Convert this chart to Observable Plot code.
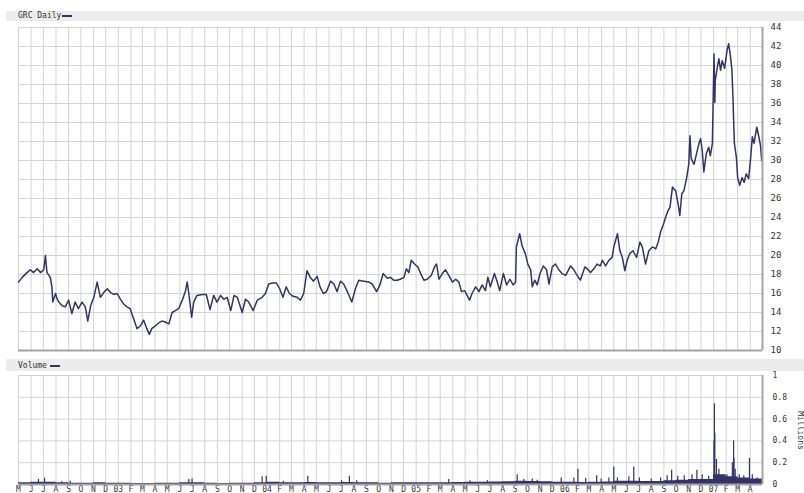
<!DOCTYPE html>
<html><head><meta charset="utf-8">
<script src="https://cdn.jsdelivr.net/npm/d3@7"></script>
<script src="https://cdn.jsdelivr.net/npm/@observablehq/plot@0.6"></script>
<style>
body{margin:0;background:#fff;width:804px;height:493px;overflow:hidden;position:relative;font-family:"DejaVu Sans Mono",monospace;}
.bar{position:absolute;left:6px;width:798px;background:#ececec;}
.lbl{position:absolute;font-size:8px;color:#333;line-height:10px;}
.dash{position:absolute;height:2px;width:10px;background:#333366;}
#price,#vol{position:absolute;left:0;}
#price{top:22px}
#vol{top:366px}
#mil{position:absolute;left:770px;top:426px;width:60px;text-align:center;font-size:8px;color:#333;transform:rotate(90deg);transform-origin:center;font-family:"DejaVu Sans Mono",monospace;}
svg text{font-family:"DejaVu Sans Mono",monospace;}
</style></head>
<body>
<div class="bar" style="top:11px;height:10px"></div>
<div class="lbl" style="left:18px;top:11px">GRC Daily</div>
<div class="dash" style="left:62px;top:15px"></div>
<div class="bar" style="top:359px;height:12px"></div>
<div class="lbl" style="left:18px;top:361px">Volume</div>
<div class="dash" style="left:50px;top:365px"></div>
<div id="price"></div>
<div id="vol"></div>
<div id="mil">Millions</div>
<script>
const monthLetters = ["J","F","M","A","M","J","J","A","S","O","N","D"];
const priceTicks = [10,12,14,16,18,20,22,24,26,28,30,32,34,36,38,40,42,44];
const volTicks = [0,0.2,0.4,0.6,0.8,1];
const xStart = "2002-05-01", xEnd = "2007-05-01";

const priceDates = [
"2002-05-01","2002-05-10","2002-05-22","2002-05-30","2002-06-07","2002-06-16","2002-06-24","2002-07-02","2002-07-06","2002-07-10",
"2002-07-18","2002-07-22","2002-07-24","2002-07-31","2002-08-04","2002-08-08","2002-08-16","2002-08-24","2002-09-01","2002-09-09",
"2002-09-17","2002-09-25","2002-10-04","2002-10-12","2002-10-18","2002-10-25","2002-11-02","2002-11-10","2002-11-18","2002-11-26",
"2002-12-05","2002-12-13","2002-12-21","2002-12-29","2003-01-06","2003-01-14","2003-01-22","2003-01-30","2003-02-08","2003-02-16",
"2003-02-24","2003-03-04","2003-03-12","2003-03-18","2003-03-24","2003-04-02","2003-04-10","2003-04-18","2003-04-26","2003-05-05",
"2003-05-13","2003-05-21","2003-05-29","2003-06-07","2003-06-15","2003-06-19","2003-06-23","2003-06-30","2003-07-05","2003-07-13",
"2003-07-26","2003-08-05","2003-08-14","2003-08-23","2003-08-31","2003-09-09","2003-09-17","2003-09-25","2003-10-04","2003-10-12",
"2003-10-20","2003-11-01","2003-11-09","2003-11-17","2003-11-28","2003-12-08","2003-12-20","2003-12-28","2004-01-05","2004-01-14",
"2004-01-24","2004-02-01","2004-02-09","2004-02-17","2004-02-25","2004-03-05","2004-03-15","2004-03-23","2004-03-31","2004-04-08",
"2004-04-16","2004-04-24","2004-05-03","2004-05-10","2004-05-18","2004-05-26","2004-06-05","2004-06-13","2004-06-21","2004-06-29",
"2004-07-07","2004-07-15","2004-07-27","2004-08-05","2004-08-13","2004-08-25","2004-09-07","2004-09-15","2004-09-26","2004-10-04",
"2004-10-12","2004-10-22","2004-10-30","2004-11-07","2004-11-15","2004-11-23","2004-12-02","2004-12-08","2004-12-14","2004-12-20",
"2004-12-28","2005-01-05","2005-01-12","2005-01-20","2005-01-28","2005-02-07","2005-02-15","2005-02-20","2005-02-26","2005-03-06",
"2005-03-14","2005-03-22","2005-03-31","2005-04-08","2005-04-16","2005-04-22","2005-04-30","2005-05-06","2005-05-12","2005-05-18",
"2005-05-27","2005-06-04","2005-06-12","2005-06-20","2005-06-26","2005-07-02","2005-07-12","2005-07-19","2005-07-25","2005-08-03",
"2005-08-11","2005-08-19","2005-08-27","2005-09-02","2005-09-04","2005-09-12","2005-09-18","2005-09-26","2005-10-02","2005-10-09",
"2005-10-13","2005-10-19","2005-10-25","2005-11-01","2005-11-09","2005-11-17","2005-11-23","2005-12-01","2005-12-09","2005-12-17",
"2005-12-25","2006-01-03","2006-01-15","2006-01-23","2006-01-31","2006-02-08","2006-02-19","2006-02-25","2006-03-05","2006-03-13",
"2006-03-21","2006-03-29","2006-04-03","2006-04-11","2006-04-19","2006-04-27","2006-05-01","2006-05-10","2006-05-16","2006-05-22",
"2006-05-28","2006-06-03","2006-06-09","2006-06-17","2006-06-26","2006-07-04","2006-07-10","2006-07-18","2006-07-26","2006-08-04",
"2006-08-12","2006-08-18","2006-08-24","2006-08-31","2006-09-05","2006-09-11","2006-09-16","2006-09-22","2006-09-30","2006-10-06",
"2006-10-10","2006-10-15","2006-10-20","2006-10-27","2006-11-01","2006-11-04","2006-11-07","2006-11-14","2006-11-20","2006-11-26",
"2006-11-30","2006-12-04","2006-12-08","2006-12-14","2006-12-20","2006-12-24","2006-12-29","2007-01-02","2007-01-04","2007-01-05",
"2007-01-10","2007-01-14","2007-01-18","2007-01-22","2007-01-28","2007-02-03","2007-02-07","2007-02-11","2007-02-15","2007-02-18",
"2007-02-19","2007-02-21","2007-02-26","2007-03-01","2007-03-06","2007-03-12","2007-03-17","2007-03-22","2007-03-28","2007-04-02",
"2007-04-06","2007-04-10","2007-04-17","2007-04-22","2007-04-26","2007-04-29"];
const priceValues = [
17.2,17.7,18.2,18.5,18.2,18.6,18.2,18.5,20.0,18.2,
17.7,16.7,15.1,16.0,15.4,15.1,14.7,14.6,15.3,13.9,
15.1,14.4,15.1,14.6,13.1,14.7,15.6,17.2,15.6,16.1,
16.5,16.1,15.9,16.0,15.4,14.9,14.6,14.4,13.3,12.3,
12.6,13.2,12.3,11.7,12.3,12.6,12.9,13.1,13.0,12.8,
14.0,14.2,14.4,15.3,16.3,17.2,16.0,13.5,15.1,15.8,
15.9,15.9,14.3,15.8,15.1,15.8,15.4,15.6,14.2,15.8,
15.6,14.0,15.4,15.1,14.2,15.3,15.6,16.0,17.0,17.1,
17.1,16.5,15.6,16.7,16.0,15.7,15.6,15.3,16.0,18.4,
17.7,17.3,17.8,16.7,16.0,16.2,17.3,17.0,16.2,17.3,
17.0,16.3,15.1,16.5,17.4,17.3,17.2,17.0,16.2,16.9,
18.1,17.6,17.7,17.4,17.4,17.5,17.7,18.6,18.2,19.5,
19.1,18.8,18.1,17.4,17.5,17.9,18.8,19.1,17.5,18.1,
18.5,17.9,17.2,17.5,17.2,16.2,16.3,15.8,15.3,16.0,
16.7,16.2,16.9,16.3,17.7,16.7,18.1,17.2,16.3,18.1,
16.9,17.5,16.9,17.2,20.9,22.3,21.0,20.2,19.1,18.5,
16.7,17.4,16.9,18.1,18.9,18.5,17.0,18.8,19.1,18.5,
18.1,17.9,18.9,18.5,17.9,17.4,18.8,18.6,18.2,18.6,
19.1,18.9,19.5,18.9,19.5,19.8,20.9,22.3,20.5,19.8,
18.4,19.5,20.2,20.5,19.8,21.4,20.9,19.1,20.5,20.9,
20.7,21.4,22.5,23.3,24.0,24.7,25.1,27.2,26.8,25.4,
24.2,26.5,26.8,28.2,29.6,32.6,30.2,29.6,30.7,31.8,
32.3,31.1,28.8,30.7,31.4,30.5,31.8,41.2,36.1,38.4,
39.8,40.7,39.5,40.5,39.7,41.6,42.3,41.1,39.5,36.0,
34.4,31.8,30.3,28.2,27.4,28.2,27.7,28.6,28.1,30.3,
32.5,31.8,33.5,32.5,31.6,30.0];

// typical daily volume level per month (millions)
const volBaseMonths = [
"2002-05","2002-06","2002-07","2002-08","2002-09","2002-10","2002-11","2002-12",
"2003-01","2003-02","2003-03","2003-04","2003-05","2003-06","2003-07","2003-08","2003-09","2003-10","2003-11","2003-12",
"2004-01","2004-02","2004-03","2004-04","2004-05","2004-06","2004-07","2004-08","2004-09","2004-10","2004-11","2004-12",
"2005-01","2005-02","2005-03","2005-04","2005-05","2005-06","2005-07","2005-08","2005-09","2005-10","2005-11","2005-12",
"2006-01","2006-02","2006-03","2006-04","2006-05","2006-06","2006-07","2006-08","2006-09","2006-10","2006-11","2006-12",
"2007-01","2007-02","2007-03","2007-04","2007-05"];
const volBaseValues = [
0.015,0.02,0.02,0.015,0.012,0.012,0.015,0.012,
0.012,0.01,0.01,0.012,0.012,0.015,0.015,0.012,0.01,0.012,0.012,0.015,
0.02,0.015,0.015,0.018,0.015,0.015,0.018,0.015,0.015,0.012,0.015,0.015,
0.015,0.015,0.015,0.018,0.02,0.02,0.022,0.025,0.03,0.028,0.025,0.02,
0.02,0.018,0.02,0.022,0.03,0.03,0.028,0.028,0.035,0.04,0.045,0.045,
0.09,0.07,0.06,0.05,0.05];

// individual high-volume days (millions)
const volSpikeDates = [
"2002-06-19","2002-07-04","2002-08-15","2002-09-05","2003-06-23","2003-07-01","2003-12-20","2003-12-30","2004-02-10","2004-04-10",
"2004-07-02","2004-07-21","2004-08-08","2005-03-22","2005-05-13","2005-06-25","2005-09-06","2005-09-22","2005-10-13","2005-10-25",
"2005-12-23","2006-01-23","2006-02-02","2006-02-21","2006-03-20","2006-03-31","2006-04-19","2006-05-01","2006-05-10","2006-06-07",
"2006-06-19","2006-07-03","2006-08-01","2006-08-24","2006-09-09","2006-09-20","2006-10-05","2006-10-21","2006-11-09","2006-11-21",
"2006-12-04","2006-12-20","2007-01-02","2007-01-03","2007-01-04","2007-01-08","2007-01-14","2007-01-22","2007-02-03","2007-02-16",
"2007-02-19","2007-02-20","2007-02-23","2007-03-05","2007-03-16","2007-03-30","2007-04-06","2007-04-18","2007-04-30"];
const volSpikeValues = [
0.046,0.058,0.025,0.03,0.046,0.05,0.07,0.075,0.03,0.075,
0.035,0.075,0.035,0.046,0.035,0.035,0.09,0.046,0.05,0.04,
0.06,0.06,0.14,0.055,0.08,0.05,0.06,0.16,0.06,0.07,
0.16,0.06,0.05,0.06,0.08,0.13,0.075,0.08,0.09,0.13,
0.09,0.075,0.40,0.74,0.47,0.23,0.14,0.08,0.09,0.20,
0.40,0.24,0.14,0.09,0.08,0.24,0.09,0.06,0.045];

const parse = d3.utcParse("%Y-%m-%d");
const parseM = d3.utcParse("%Y-%m");
const price = priceDates.map((d,i)=>({date:parse(d), value:priceValues[i]}));
const volBase = volBaseMonths.map((d,i)=>({date:parseM(d), value:volBaseValues[i]}));
const volSpikes = volSpikeDates.map((d,i)=>({date:parse(d), value:volSpikeValues[i]}));
const xDomain = [parse(xStart), parse(xEnd)];
const months = d3.utcMonth.range(xDomain[0], xDomain[1]);
const grid = "#d4d4d4", frameC = "#a4a4a4", ink = "#333366";
const fmtMonth = d => d.getUTCMonth()===0 ? String(d.getUTCFullYear()).slice(2).padStart(2,"0") : monthLetters[d.getUTCMonth()];

const p1 = Plot.plot({
  width: 804, height: 337,
  marginLeft: 18, marginRight: 42, marginTop: 5, marginBottom: 9,
  style: {fontSize: "9px", color: "#333", background: "transparent"},
  x: {type: "utc", domain: xDomain, axis: null},
  y: {domain: [10,44], axis: "right", ticks: priceTicks, tickSize: 0, tickPadding: 8, label: null, tickFormat: d=>String(d)},
  marks: [
    Plot.ruleY(priceTicks, {stroke: grid}),
    Plot.ruleX(months, {stroke: grid}),
    Plot.line(price, {x: "date", y: "value", stroke: ink, strokeWidth: 1.5}),
    Plot.ruleX([xDomain[1]], {stroke: frameC, strokeWidth: 2}),
    Plot.ruleY([10], {stroke: frameC, strokeWidth: 2})
  ]
});
document.getElementById("price").appendChild(p1);

const p2 = Plot.plot({
  width: 804, height: 138,
  marginLeft: 18, marginRight: 42, marginTop: 9, marginBottom: 20,
  style: {fontSize: "8px", color: "#333", background: "transparent"},
  x: {type: "utc", domain: xDomain, ticks: months, tickFormat: fmtMonth, tickSize: 0, tickPadding: 2, label: null},
  y: {domain: [0,1], axis: "right", ticks: volTicks, tickSize: 0, tickPadding: 10, label: null, tickFormat: d=>String(d)},
  marks: [
    Plot.ruleY(volTicks, {stroke: grid}),
    Plot.ruleX(months, {stroke: grid}),
    Plot.areaY(volBase, {x: "date", y: "value", fill: ink, curve: "step-after"}),
    Plot.ruleX(volSpikes, {x: "date", y1: 0, y2: "value", stroke: ink, strokeWidth: 1.2}),
    Plot.ruleX([xDomain[1]], {stroke: frameC, strokeWidth: 2}),
    Plot.ruleY([0], {stroke: frameC, strokeWidth: 2})
  ]
});
document.getElementById("vol").appendChild(p2);
</script>
</body></html>
